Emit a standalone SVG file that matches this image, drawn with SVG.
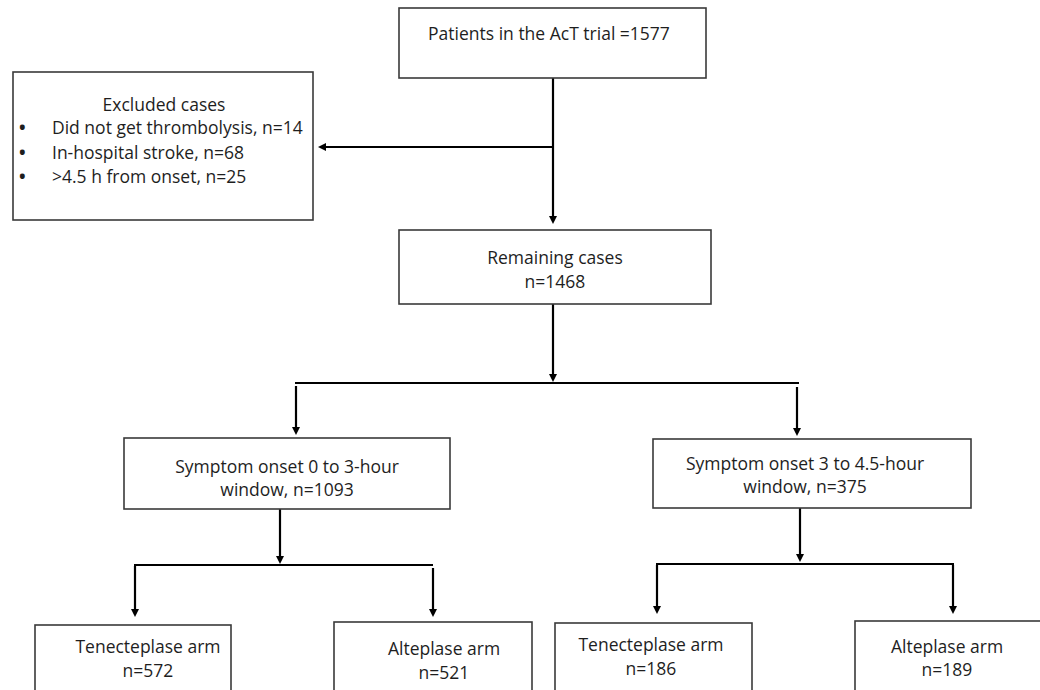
<svg xmlns="http://www.w3.org/2000/svg" width="1040" height="690" viewBox="0 0 1040 690">
<style>
.box{fill:#fff;stroke:#3a3a3a;stroke-width:1.6}
.t{font-family:"Open Sans","Liberation Sans",Arial,sans-serif;font-size:17.5px;fill:#1e1e1e}
.c{text-anchor:middle}
.b{font-weight:bold}
.ln{stroke:#000;stroke-width:2.2;fill:none}
</style>
<defs>
<marker id="ah" markerUnits="userSpaceOnUse" markerWidth="9" markerHeight="9" refX="5" refY="4" orient="auto">
<path d="M0,0 L8,4 L0,8 z" fill="#000"/>
</marker>
</defs>
<rect width="1040" height="690" fill="#fff"/>
<g id="connectors">
<line class="ln" x1="553" y1="78" x2="553" y2="221" marker-end="url(#ah)"/>
<line class="ln" x1="553" y1="147" x2="321" y2="147" marker-end="url(#ah)"/>
<line class="ln" x1="553" y1="304" x2="553" y2="379" marker-end="url(#ah)"/>
<line class="ln" x1="295" y1="383" x2="799" y2="383"/>
<line class="ln" x1="296" y1="386" x2="296" y2="432" marker-end="url(#ah)"/>
<line class="ln" x1="797" y1="387" x2="797" y2="433" marker-end="url(#ah)"/>
<line class="ln" x1="280" y1="509" x2="280" y2="561" marker-end="url(#ah)"/>
<line class="ln" x1="134" y1="565" x2="433" y2="565"/>
<line class="ln" x1="135" y1="566" x2="135" y2="614" marker-end="url(#ah)"/>
<line class="ln" x1="433" y1="568" x2="433" y2="614" marker-end="url(#ah)"/>
<line class="ln" x1="800" y1="508" x2="800" y2="559" marker-end="url(#ah)"/>
<line class="ln" x1="656" y1="564" x2="954" y2="564"/>
<line class="ln" x1="657" y1="565" x2="657" y2="611" marker-end="url(#ah)"/>
<line class="ln" x1="953" y1="565" x2="953" y2="611" marker-end="url(#ah)"/>
</g>
<g id="n_total">
<rect class="box" x="399" y="8" width="307" height="70"/>
<text class="t c" x="549" y="40">Patients in the AcT trial =1577</text>
</g>
<g id="n_excluded">
<rect class="box" x="13" y="72" width="300" height="148"/>
<text class="t c" x="164" y="111">Excluded cases</text>
<text class="t b" x="19" y="134">•</text>
<text class="t" x="52" y="134">Did not get thrombolysis, n=14</text>
<text class="t b" x="19" y="159">•</text>
<text class="t" x="52" y="159">In-hospital stroke, n=68</text>
<text class="t b" x="19" y="183">•</text>
<text class="t" x="52" y="183">&gt;4.5 h from onset, n=25</text>
</g>
<g id="n_remaining">
<rect class="box" x="399" y="230" width="312" height="74"/>
<text class="t c" x="555" y="264">Remaining cases</text>
<text class="t c" x="555" y="288">n=1468</text>
</g>
<g id="n_early">
<rect class="box" x="124" y="438" width="326" height="71"/>
<text class="t c" x="287" y="473">Symptom onset 0 to 3-hour</text>
<text class="t c" x="287" y="496">window, n=1093</text>
</g>
<g id="n_late">
<rect class="box" x="653" y="439" width="318" height="69"/>
<text class="t c" x="805" y="470">Symptom onset 3 to 4.5-hour</text>
<text class="t c" x="805" y="493">window, n=375</text>
</g>
<g id="n_ten1">
<rect class="box" x="35" y="625" width="196" height="80"/>
<text class="t c" x="148" y="653">Tenecteplase arm</text>
<text class="t c" x="148" y="677">n=572</text>
</g>
<g id="n_alt1">
<rect class="box" x="334" y="622" width="198" height="80"/>
<text class="t c" x="444" y="655">Alteplase arm</text>
<text class="t c" x="444" y="679">n=521</text>
</g>
<g id="n_ten2">
<rect class="box" x="555" y="623" width="197" height="80"/>
<text class="t c" x="651" y="651">Tenecteplase arm</text>
<text class="t c" x="651" y="675">n=186</text>
</g>
<g id="n_alt2">
<rect class="box" x="855" y="621" width="200" height="80"/>
<text class="t c" x="947" y="653">Alteplase arm</text>
<text class="t c" x="947" y="676">n=189</text>
</g>
</svg>
